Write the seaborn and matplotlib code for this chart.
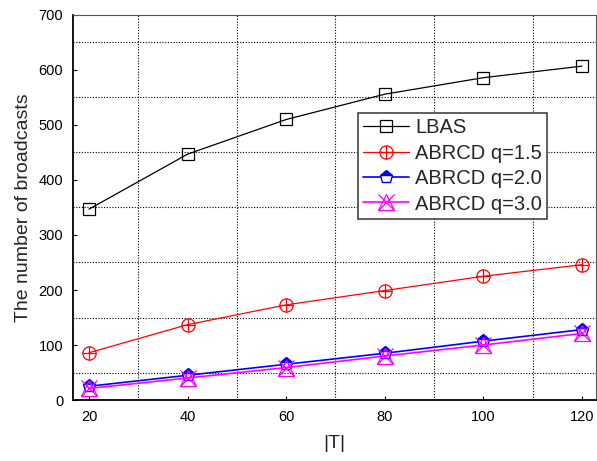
import numpy as np
import pandas as pd
import seaborn as sns
import matplotlib
matplotlib.use("Agg")
import matplotlib.pyplot as plt
from matplotlib.legend_handler import HandlerTuple
from matplotlib.ticker import MultipleLocator

T = [20, 40, 60, 80, 100, 120]
lbas = [347, 447, 510, 556, 586, 607]
abrcd_15 = [86, 137, 173, 199, 225, 246]
abrcd_20 = [25, 45, 65, 85, 107, 128]
abrcd_30 = [21, 40, 59, 80, 100, 121]


def main():
    sns.set_style("ticks")
    plt.rcParams['font.family'] = ['Liberation Sans', 'DejaVu Sans']

    fig = plt.figure(figsize=(5.97, 4.61), dpi=100)
    ax = fig.add_axes([0.1223, 0.1323, 0.8760, 0.8352])

    df = pd.DataFrame({
        'T': T * 4,
        'value': lbas + abrcd_15 + abrcd_20 + abrcd_30,
        'series': ['LBAS'] * 6 + ['ABRCD q=1.5'] * 6 + ['ABRCD q=2.0'] * 6 + ['ABRCD q=3.0'] * 6,
    })

    def sub(name):
        return df[df['series'] == name]

    l1 = ax.plot(sub('LBAS')['T'], sub('LBAS')['value'], color='black', lw=0.9,
                 marker='s', ms=8, mfc='none', mec='black', mew=0.9)[0]

    sns.lineplot(data=sub('ABRCD q=1.5'), x='T', y='value', ax=ax, color='red', lw=0.9,
                 marker='o', markersize=9.5, markerfacecolor='none', markeredgecolor='red',
                 markeredgewidth=0.9)
    l2 = ax.lines[-1]
    l2b = ax.plot(sub('ABRCD q=1.5')['T'], sub('ABRCD q=1.5')['value'], ls='none',
                  marker='+', ms=9.5, mec='red', mew=0.9)[0]

    l3 = ax.plot(sub('ABRCD q=2.0')['T'], sub('ABRCD q=2.0')['value'], color='blue', lw=1.2,
                 marker='p', ms=9.5, fillstyle='top', mfc='blue', mfcalt='white',
                 mec='blue', mew=1.0)[0]

    l4 = ax.plot(sub('ABRCD q=3.0')['T'], sub('ABRCD q=3.0')['value'], color='magenta', lw=1.2,
                 marker='^', ms=11, mfc='none', mec='magenta', mew=0.9)[0]
    l4b = ax.plot(sub('ABRCD q=3.0')['T'], sub('ABRCD q=3.0')['value'], ls='none',
                  marker='x', ms=11, mec='magenta', mew=0.9)[0]

    ax.set_xlim(16.75, 122.85)
    ax.set_ylim(0, 700)
    ax.xaxis.set_major_locator(MultipleLocator(20))
    ax.yaxis.set_major_locator(MultipleLocator(100))
    # grid sits on the in-between positions
    ax.set_xticks([30, 50, 70, 90, 110], minor=True)
    ax.set_yticks(list(range(50, 700, 100)), minor=True)
    ax.grid(False)
    ax.grid(which='minor', color='black', ls=(0, (1, 1.5)), lw=0.8)
    ax.tick_params(which='major', direction='in', length=3, width=0.8, labelsize=10.5,
                   colors='black', pad=7)
    ax.tick_params(which='minor', length=0)

    for side in ['left', 'bottom']:
        ax.spines[side].set_linewidth(1.3)
        ax.spines[side].set_color('black')
    for side in ['top', 'right']:
        ax.spines[side].set_visible(True)
        ax.spines[side].set_linewidth(0.8)
        ax.spines[side].set_color('#555555')

    ax.set_xlabel('|T|', fontsize=14, labelpad=8)
    ax.set_ylabel('The number of broadcasts', fontsize=14, labelpad=5)

    leg = ax.legend([l1, (l2, l2b), l3, (l4, l4b)],
                    ['LBAS', 'ABRCD q=1.5', 'ABRCD q=2.0', 'ABRCD q=3.0'],
                    handler_map={tuple: HandlerTuple(ndivide=1, pad=0)},
                    loc='upper left', bbox_to_anchor=(0.545, 0.745), borderaxespad=0,
                    fontsize=14.5, handlelength=2.3, handletextpad=0.3, labelspacing=0.32,
                    borderpad=0.25, fancybox=False, framealpha=1, edgecolor='#444444')
    leg.get_frame().set_linewidth(1.2)

    plt.savefig('out.png', dpi=100)


if __name__ == "__main__":
    main()
